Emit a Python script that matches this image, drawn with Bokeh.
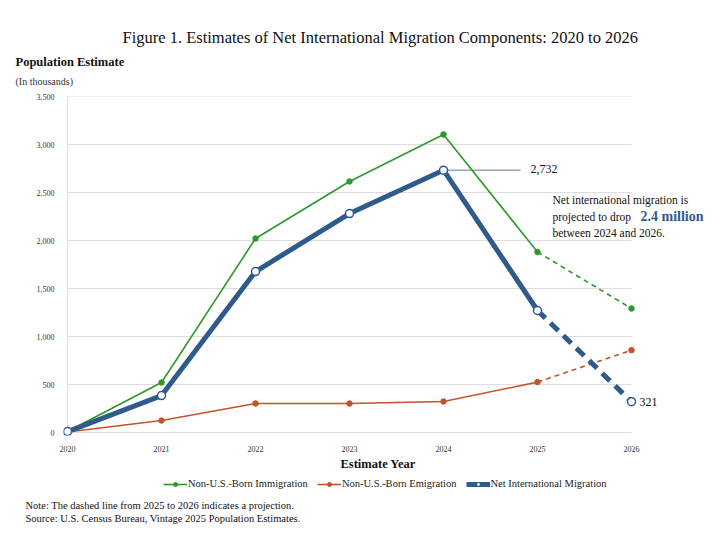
from bokeh.plotting import figure
from bokeh.layouts import column
from bokeh.models import (Range1d, Label, Legend, LegendItem, FixedTicker,
                          NumeralTickFormatter, Title)
from bokeh.embed import file_html
from bokeh.resources import INLINE

# ---- data (thousands) ----
years = [2020, 2021, 2022, 2023, 2024, 2025, 2026]
immigration = [10, 521, 2021, 2615, 3105, 1880, 1292]
emigration = [5, 125, 302, 302, 323, 525, 858]
net_migration = [10, 385, 1677, 2281, 2732, 1271, 321]
y_ticks = [0, 500, 1000, 1500, 2000, 2500, 3000, 3500]
series_names = ["Non-U.S.-Born Immigration", "Non-U.S.-Born Emigration",
                "Net International Migration"]

FONT = "Liberation Serif"
GREEN = "#2b992b"
ORANGE = "#c3532a"
BLUE = "#2f5b8c"
GRID = "#dedede"
W = 714
H1 = 475                          # chart figure height
FL = 63                           # frame left (page px)
FT, FB = 96, 435                  # frame top / bottom (page px)


def ttl(text, px, size, bold=False, standoff=0, color="#111111", lh=None):
    t = Title(text=text, align="left", offset=px - FL, text_font=FONT,
              text_font_size=size, text_font_style="bold" if bold else "normal",
              text_color=color, standoff=standoff)
    if lh is not None:
        t.text_line_height = lh
    return t


# ---------------- chart ----------------
p = figure(width=W, height=H1, output_backend="svg", toolbar_location=None,
           x_range=Range1d(2019.957, 2026.883), y_range=Range1d(-31, 3500),
           min_border_left=FL, min_border_right=0, min_border_top=FT,
           min_border_bottom=H1 - FB)
p.outline_line_color = None
p.background_fill_color = "white"
p.border_fill_color = "white"

p.xaxis.ticker = FixedTicker(ticks=years)
p.yaxis.ticker = FixedTicker(ticks=y_ticks)
p.yaxis.formatter = NumeralTickFormatter(format="0,0")
for ax in (p.xaxis[0], p.yaxis[0]):
    ax.axis_line_color = None
    ax.major_tick_line_color = None
    ax.minor_tick_line_color = None
    ax.major_label_text_font = FONT
    ax.major_label_text_font_size = "8px"
    ax.major_label_text_color = "#333333"
p.xaxis.major_label_standoff = 4
p.yaxis.major_label_standoff = 3
p.xgrid.grid_line_color = None
p.ygrid.grid_line_color = None

# grid lines spanning the data years only, and the left axis line
p.segment(x0=years[0], x1=years[-1], y0=y_ticks, y1=y_ticks, line_color=GRID, line_width=1)
p.segment(x0=[years[0]], x1=[years[0]], y0=[y_ticks[0]], y1=[y_ticks[-1]],
          line_color=GRID, line_width=1)

# leader line for 2,732
p.segment(x0=[years[4]], y0=[net_migration[4]], x1=[2024.82], y1=[net_migration[4]],
          line_color="#8fa6ba", line_width=1.5)

solid = slice(0, 6)
dash = slice(5, 7)

p.line(years[solid], immigration[solid], line_color=GREEN, line_width=1.6)
p.line(years[dash], immigration[dash], line_color=GREEN, line_width=1.6, line_dash="5 4")
p.scatter(years, immigration, size=5.5, color=GREEN)

p.line(years[solid], emigration[solid], line_color=ORANGE, line_width=1.6)
p.line(years[dash], emigration[dash], line_color=ORANGE, line_width=1.6, line_dash="5 4")
p.scatter(years, emigration, size=5.5, color=ORANGE)

p.line(years[solid], net_migration[solid], line_color=BLUE, line_width=5)
p.line(years[dash], net_migration[dash], line_color=BLUE, line_width=5, line_dash="11 7")
p.scatter(years, net_migration, size=8, fill_color="white", line_color=BLUE, line_width=1.5)

# header titles, stacked outward from the frame
p.add_layout(ttl("(In thousands)", 15, "10px", standoff=19, color="#333333"), "above")
p.add_layout(ttl("Population Estimate", 15, "12.5px", bold=True, standoff=-9), "above")
p.add_layout(ttl("Figure 1. Estimates of Net International Migration Components: 2020 to 2026",
                 122, "16.5px", standoff=21), "above")
# x axis title
p.add_layout(ttl("Estimate Year", 340, "12.5px", bold=True, standoff=0, lh=1.2), "below")


def lab(text, px, py, size, bold=False, color="#111111"):
    p.add_layout(Label(x=px - FL, y=FB - py, x_units="screen", y_units="screen",
                       text=text, text_font=FONT, text_font_size=size,
                       text_align="left", text_baseline="middle", text_color=color,
                       text_font_style="bold" if bold else "normal"))


lab("{:,}".format(net_migration[4]), 530, 168, "12px")
lab("{:,}".format(net_migration[6]), 639, 401, "12px")
lab("Net international migration is", 552, 199, "11.5px")
lab("projected to drop", 552, 216, "11.5px")
lab("2.4 million", 640, 216, "14px", bold=True, color=BLUE)
lab("between 2024 and 2026.", 552, 232, "11.5px")

# ---------------- footer: legend + notes ----------------
foot = figure(width=W, frame_height=18, output_backend="svg", toolbar_location=None,
              x_range=Range1d(0, 1), y_range=Range1d(0, 1),
              x_axis_location=None, y_axis_location=None,
              min_border_top=0, min_border_bottom=0, min_border_right=0)
foot.outline_line_color = None
foot.grid.grid_line_color = None
foot.background_fill_color = "white"
foot.border_fill_color = "white"

# legend swatches (their data lie outside this footer's visible range)
l_imm = foot.line(years, immigration, line_color=GREEN, line_width=1.6)
m_imm = foot.scatter(years, immigration, size=5.5, color=GREEN)
l_emi = foot.line(years, emigration, line_color=ORANGE, line_width=1.6)
m_emi = foot.scatter(years, emigration, size=5.5, color=ORANGE)
l_net = foot.line(years, net_migration, line_color=BLUE, line_width=5)
m_net = foot.scatter(years, net_migration, size=6, fill_color="white", line_color=BLUE,
                     line_width=1.2)

legend = Legend(items=[
    LegendItem(label=series_names[0], renderers=[l_imm, m_imm]),
    LegendItem(label=series_names[1], renderers=[l_emi, m_emi]),
    LegendItem(label=series_names[2], renderers=[l_net, m_net]),
], orientation="horizontal", location=(163 - FL, 4))
legend.label_text_font = FONT
legend.label_text_font_size = "10.5px"
legend.label_text_color = "#222222"
legend.glyph_width = 24
legend.glyph_height = 10
legend.label_standoff = 1
legend.spacing = 9
legend.padding = 0
legend.margin = 0
legend.border_line_color = None
legend.background_fill_alpha = 0
legend.label_height = 10
foot.add_layout(legend, "center")

foot.add_layout(ttl("Note: The dashed line from 2025 to 2026 indicates a projection.\n"
                    "Source: U.S. Census Bureau, Vintage 2025 Population Estimates.",
                    25, "10.5px", standoff=10, lh=1.22), "below")

layout = column(p, foot, spacing=0)
open("out.html", "w").write(file_html(layout, INLINE))
